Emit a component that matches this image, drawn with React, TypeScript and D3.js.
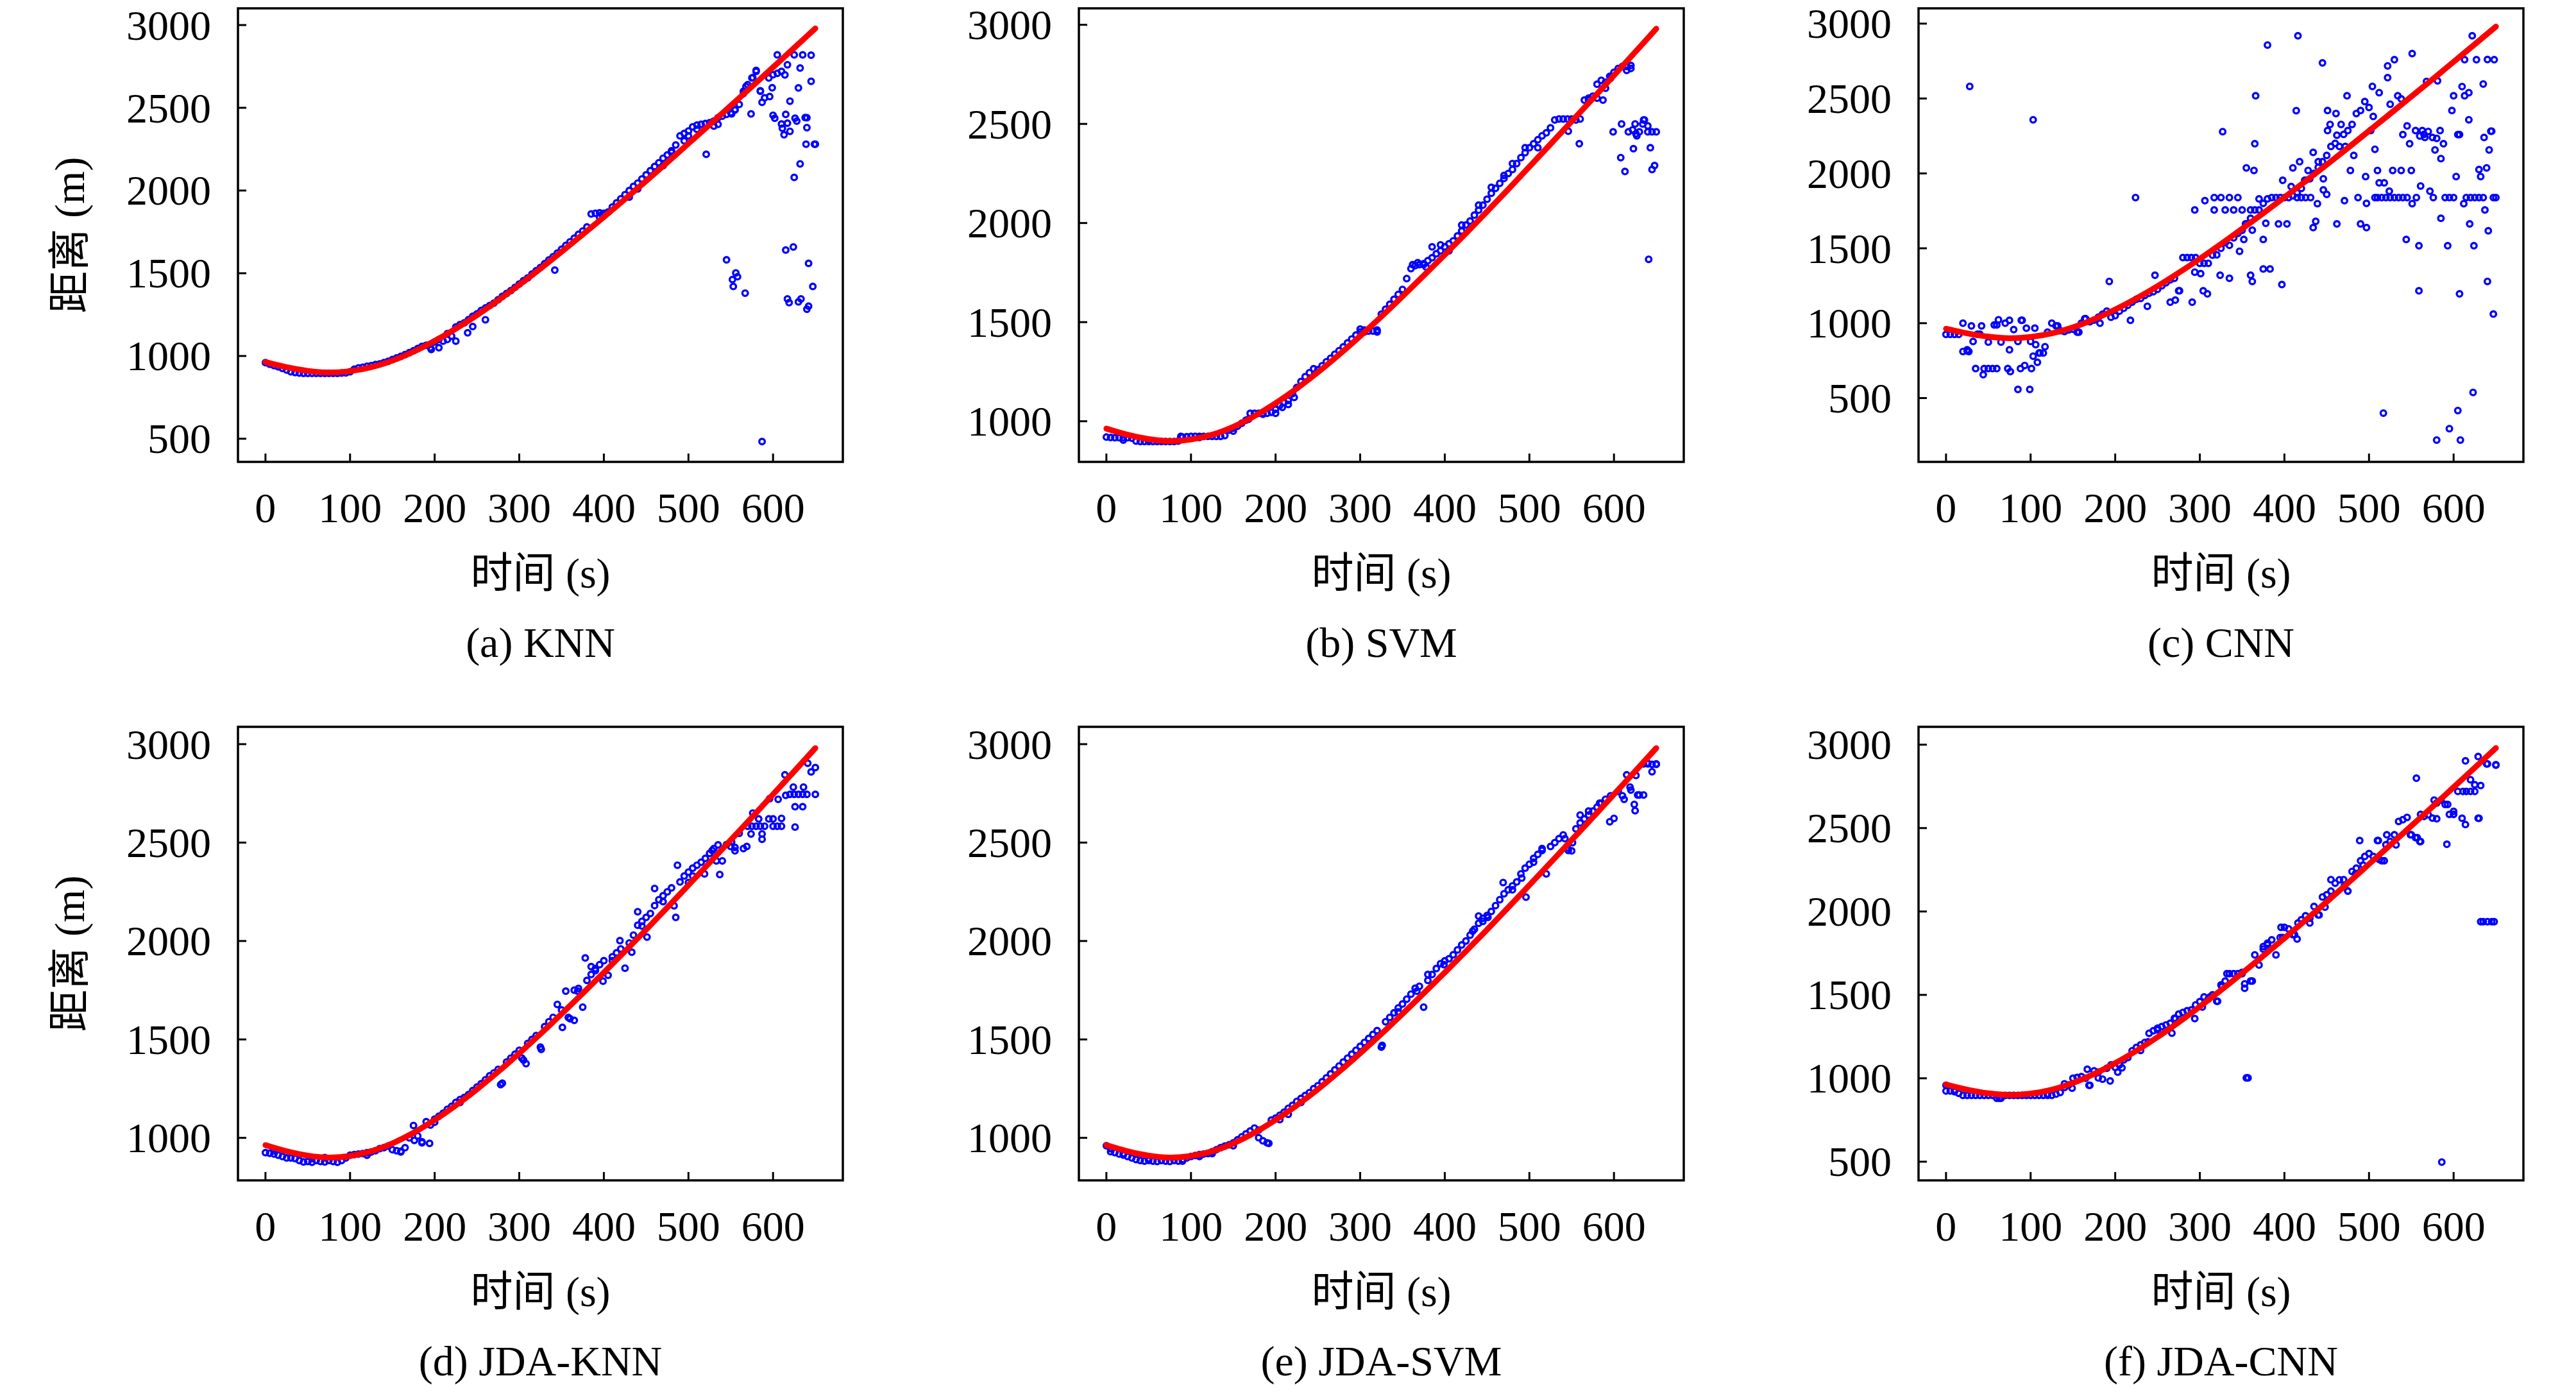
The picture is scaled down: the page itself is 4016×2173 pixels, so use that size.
import * as d3 from "d3";
import React from "react";

const W = 4016;
const H = 2173;
const BOX_W = 943;
const BOX_H = 707;
const COL_LEFT = [371, 1682, 2991];
const ROW_TOP = [13, 1133];
const FONT = "'Liberation Serif', 'Noto Sans CJK SC', serif";

// 采样时刻 (s)
const times = [
  0, 5, 10, 15, 20, 25, 30, 35, 40, 45,
  50, 55, 60, 65, 70, 75, 80, 85, 90, 95,
  100, 105, 110, 115, 120, 125, 130, 135, 140, 145,
  150, 155, 160, 165, 170, 175, 180, 185, 190, 195,
  200, 205, 210, 215, 220, 225, 230, 235, 240, 245,
  250, 255, 260, 265, 270, 275, 280, 285, 290, 295,
  300, 305, 310, 315, 320, 325, 330, 335, 340, 345,
  350, 355, 360, 365, 370, 375, 380, 385, 390, 395,
  400, 405, 410, 415, 420, 425, 430, 435, 440, 445,
  450, 455, 460, 465, 470, 475, 480, 485, 490, 495,
  500, 505, 510, 515, 520, 525, 530, 535, 540, 545,
  550, 555, 560, 565, 570, 575, 580, 585, 590, 595,
  600, 605, 610, 615, 620, 625, 630, 635, 640, 645,
  650,
];

// 真实距离 (红线)
const truthTimes = [0, 25, 50, 75, 100, 125, 150, 175, 200, 225, 250, 275, 300, 325, 350, 375, 400, 425, 450, 475, 500, 525, 550, 575, 600, 625, 650];
const truthDist = [963, 932, 910, 900, 908, 932, 972, 1026, 1091, 1165, 1247, 1336, 1430, 1528, 1630, 1734, 1840, 1948, 2058, 2170, 2284, 2398, 2513, 2628, 2745, 2862, 2980];

// (a) KNN
const knnMain = [
  960, 950, 942, 935, 925, 915, 905, 900, 897, 895,
  895, 895, 895, 895, 895, 895, 895, 895, 897, 898,
  905, 920, 928, 932, 938, 942, 948, 952, 960, 968,
  978, 988, 998, 1008, 1020, 1032, 1045, 1058, 1065, 1050,
  1085, 1100, 1090, 1135, 1120, 1175, 1190, 1200, 1220, 1240,
  1255, 1275, 1290, 1305, 1320, 1340, 1360, 1378, 1395, 1415,
  1435, 1455, 1472, 1495, 1515, 1535, 1558, 1580, 1600, 1622,
  1645, 1668, 1690, 1712, 1735, 1755, 1780, 1858, 1862, 1865,
  1862, 1870, 1900, 1925, 1950, 1975, 2000, 2025, 2045, 2070,
  2095, 2120, 2145, 2168, 2195, 2215, 2240, 2275, 2330, 2345,
  2360, 2385, 2395, 2400, 2405, 2410, 2420, 2440, 2450, 2460,
  2470, 2490, 2520, 2600, 2640, 2680, 2720, 2600, 2560, 2680,
  2700, 2820, 2720, 2460, 2540, 2820, 2620, 2820, 2440, 2660,
  2280,
];
const knnExtra = [
  [600, 2455], [602, 2437], [610, 2402], [611, 2376], [613, 2337], [620, 2358], [617, 2407], [626, 2437],
  [628, 2420], [638, 2441], [640, 2380], [639, 2280], [649, 2280], [632, 2740], [617, 2760], [632, 2161],
  [625, 2079], [645, 2818], [585, 2603], [587, 2533], [596, 2568], [599, 2621], [605, 2708], [614, 2699],
  [580, 2726], [576, 2682], [568, 2629], [565, 2586], [574, 2463], [555, 2486], [551, 2463], [521, 2219],
  [342, 1519], [239, 1140], [245, 1178], [260, 1219], [215, 1100], [196, 1039], [205, 1050], [225, 1090],
  [545, 1581], [552, 1462], [553, 1420], [556, 1502], [558, 1479], [567, 1380], [615, 1640], [624, 1659],
  [617, 1345], [619, 1322], [630, 1327], [633, 1345], [640, 1283], [642, 1301], [642, 1560], [647, 1420],
  [587, 483], [395, 1840], [398, 1855], [430, 1960], [440, 2010], [470, 2150], [480, 2230], [495, 2300],
  [500, 2330], [510, 2370], [530, 2390], [535, 2400],
];

// (b) SVM
const svmMain = [
  920, 918, 917, 917, 917, 917, 915, 900, 898, 898,
  898, 898, 898, 898, 898, 898, 898, 900, 920, 922,
  924, 924, 924, 924, 924, 924, 924, 924, 928, 955,
  965, 975, 990, 1005, 1040, 1040, 1040, 1040, 1040, 1045,
  1060, 1080, 1095, 1105, 1140, 1170, 1200, 1225, 1245, 1265,
  1260, 1280, 1300, 1318, 1338, 1356, 1375, 1395, 1415, 1435,
  1450, 1460, 1455, 1455, 1460, 1540, 1565, 1590, 1615, 1640,
  1665, 1720, 1770, 1785, 1790, 1795, 1810, 1825, 1845, 1860,
  1880, 1895, 1910, 1935, 1960, 1990, 2010, 2040, 2065, 2090,
  2120, 2150, 2175, 2200, 2225, 2250, 2270, 2300, 2330, 2355,
  2380, 2400, 2420, 2440, 2455, 2480, 2520, 2525, 2525, 2525,
  2525, 2520, 2525, 2620, 2630, 2640, 2700, 2720, 2710, 2740,
  2760, 2780, 2790, 2790, 2780, 2500, 2460, 2520, 2460, 2460,
  2460,
];
const svmExtra = [
  [20, 905], [50, 905], [88, 924], [110, 918], [150, 950], [168, 1010], [185, 1035], [200, 1040],
  [208, 1070], [215, 1085], [222, 1120], [300, 1465], [305, 1450], [320, 1450], [362, 1790], [368, 1800],
  [375, 1790], [378, 1778], [385, 1880], [395, 1890], [405, 1860], [420, 1990], [440, 2090], [455, 2180],
  [470, 2240], [480, 2300], [495, 2380], [510, 2380], [546, 2463], [559, 2400], [570, 2620], [580, 2630],
  [587, 2620], [590, 2680], [596, 2730], [615, 2770], [620, 2795], [599, 2460], [609, 2500], [608, 2330],
  [613, 2260], [617, 2460], [623, 2375], [626, 2450], [634, 2500], [636, 2520], [640, 2490], [643, 2380],
  [648, 2290], [645, 2270], [622, 2470], [627, 2440], [641, 1817],
];

// (c) CNN
const cnnMain = [
  925, 925, 925, 925, 1000, 815, 982, 697, 926, 697,
  874, 697, 988, 874, 1000, 1019, 957, 878, 1019, 967,
  878, 967, 801, 801, 940, 1000, 982, 950, 945, 955,
  960, 940, 1000, 1030, 1010, 1020, 1040, 1060, 1080, 1040,
  1050, 1080, 1100, 1120, 1140, 1160, 1165, 1185, 1200, 1210,
  1226, 1250, 1270, 1289, 1300, 1216, 1438, 1438, 1438, 1438,
  1400, 1400, 1400, 1454, 1456, 1500, 1538, 1520, 1570, 1600,
  1620, 1663, 1700, 1756, 1756, 1800, 1830, 1839, 1839, 1839,
  1839, 1839, 1850, 1870, 1900, 1954, 1964, 2000, 2040, 2078,
  2120, 2180, 2200, 2180, 2260, 2286, 2327, 2400, 2420, 2480,
  2440, 2380, 1839, 1839, 1839, 1839, 1839, 1839, 1839, 1839,
  2020, 2286, 2250, 2260, 2280, 2240, 2234, 2099, 1839, 1839,
  1839, 2259, 2580, 1839, 1839, 1839, 1839, 1839, 2760, 2282,
  1839,
];
const cnnExtra = [
  [20, 811], [27, 811], [25, 822], [44, 656], [32, 878], [37, 926], [42, 982], [57, 988], [62, 1023],
  [73, 697], [76, 677], [75, 822], [85, 558], [88, 697], [93, 718], [101, 697], [99, 558], [89, 1019],
  [106, 857], [103, 780], [108, 739], [111, 801], [117, 843], [103, 2358], [28, 2581], [50, 697], [60, 697],
  [132, 982], [157, 940], [164, 1030], [182, 1000], [193, 1279], [218, 1019], [224, 1839], [238, 1113],
  [247, 1320], [265, 1140], [271, 1154], [276, 1216], [291, 1140], [294, 1341], [301, 1331], [304, 1216],
  [309, 1196], [324, 1320], [335, 1300], [347, 1480], [352, 1559], [360, 1320], [362, 1279], [375, 1362],
  [383, 1362], [397, 1258], [362, 1621], [354, 1663], [375, 1559], [378, 1667], [365, 2198], [327, 2279],
  [366, 2518], [380, 2857], [416, 2919], [414, 2419], [445, 2738], [294, 1756], [306, 1818], [317, 1839],
  [325, 1839], [335, 1839], [345, 1839], [317, 1756], [330, 1756], [340, 1756], [350, 1756], [360, 1756],
  [355, 2037], [364, 2020], [370, 1830], [393, 1663], [403, 1663], [398, 1954], [408, 1912], [410, 2037],
  [418, 2078], [428, 2020], [434, 2140], [434, 1638], [437, 1680], [439, 1798], [424, 1954], [446, 1890],
  [440, 2078], [446, 1964], [450, 1860], [415, 1839], [420, 1839], [425, 1839], [431, 1839], [451, 2286],
  [462, 2255], [454, 2327], [467, 2327], [451, 2420], [461, 2400], [462, 1663], [471, 1818], [472, 2180],
  [482, 2120], [478, 2020], [474, 2518], [487, 1839], [497, 1800], [490, 1663], [497, 1638], [496, 1979],
  [502, 2286], [507, 2161], [504, 2581], [510, 2020], [512, 2539], [507, 1839], [512, 1937], [518, 1937],
  [517, 400], [522, 2718], [522, 2639], [525, 2462], [524, 1881], [530, 2759], [528, 2020], [538, 2020],
  [534, 2518], [538, 2498], [540, 2259], [544, 1559], [545, 2317], [548, 2198], [551, 2800], [551, 1798],
  [556, 1839], [559, 1216], [559, 1517], [561, 1916], [563, 2286], [584, 2286], [568, 2614], [566, 2240],
  [578, 2157], [581, 2618], [576, 1839], [572, 1881], [580, 220], [585, 1700], [588, 2198], [593, 1517],
  [595, 296], [598, 2420], [600, 2518], [603, 1979], [605, 417], [607, 2259], [608, 220], [607, 1196],
  [612, 1798], [613, 2759], [613, 2518], [618, 2539], [618, 2358], [619, 1663], [622, 2919], [623, 538],
  [624, 1517], [627, 2759], [630, 2026], [632, 1979], [635, 2597], [636, 2240], [637, 1756], [639, 2037],
  [640, 1279], [641, 1617], [642, 2157], [644, 2282], [647, 1061], [647, 1839], [648, 2759],
];

// (d) JDA-KNN
const jdaKnnMain = [
  925, 922, 918, 912, 905, 898, 898, 895, 885, 878,
  880, 876, 885, 880, 878, 885, 880, 876, 885, 898,
  912, 915, 918, 920, 925, 928, 935, 945, 950, 958,
  940, 935, 932, 950, 1000, 1063, 1010, 980, 1082, 1065,
  1095, 1110, 1125, 1145, 1160, 1180, 1195, 1205, 1220, 1240,
  1258, 1275, 1295, 1315, 1330, 1348, 1278, 1385, 1405, 1425,
  1445, 1395, 1480, 1500, 1520, 1461, 1565, 1590, 1612, 1678,
  1650, 1745, 1605, 1750, 1759, 1664, 1800, 1830, 1860, 1880,
  1900, 1826, 1920, 1940, 1960, 1862, 1990, 2030, 2080, 2100,
  2120, 2140, 2180, 2210, 2230, 2250, 2270, 2120, 2300, 2330,
  2350, 2370, 2385, 2400, 2420, 2445, 2470, 2488, 2407, 2490,
  2480, 2475, 2547, 2470, 2583, 2583, 2583, 2583, 2583, 2620,
  2620, 2583, 2623, 2740, 2745, 2745, 2745, 2745, 2745, 2859,
  2881,
];
const jdaKnnExtra = [
  [10, 935], [55, 895], [70, 900], [120, 912], [160, 928], [176, 987], [185, 975], [194, 972], [200, 1080],
  [230, 1180], [278, 1270], [303, 1406], [308, 1377], [326, 1450], [351, 1561], [358, 1612], [365, 1597],
  [369, 1745], [378, 1914], [385, 1870], [390, 1850], [399, 1796], [410, 1900], [419, 2002], [433, 1943],
  [440, 2149], [445, 2076], [451, 2020], [460, 2267], [470, 2200], [483, 2179], [487, 2385], [500, 2297],
  [505, 2330], [519, 2341], [528, 2460], [537, 2338], [533, 2407], [551, 2503], [555, 2458], [569, 2480],
  [574, 2544], [587, 2544], [587, 2517], [576, 2650], [583, 2620], [596, 2723], [606, 2720], [614, 2844],
  [600, 2583], [610, 2583], [626, 2579], [624, 2782], [636, 2782], [626, 2682], [635, 2682], [641, 2903],
  [650, 2745],
];

// (e) JDA-SVM
const jdaSvmMain = [
  960, 945, 925, 918, 913, 905, 898, 890, 885, 882,
  885, 882, 880, 885, 882, 880, 885, 882, 890, 898,
  905, 910, 915, 918, 920, 930, 940, 950, 958, 965,
  975, 990, 1005, 1020, 1035, 1050, 1001, 985, 975, 1090,
  1100, 1115, 1130, 1150, 1165, 1185, 1200, 1215, 1230, 1250,
  1265, 1285, 1305, 1325, 1345, 1365, 1385, 1405, 1425, 1445,
  1465, 1485, 1505, 1525, 1545, 1461, 1590, 1612, 1635, 1660,
  1680, 1705, 1730, 1760, 1770, 1664, 1800, 1830, 1860, 1885,
  1899, 1910, 1930, 1955, 1980, 2000, 2030, 2060, 2090, 2115,
  2130, 2150, 2180, 2210, 2240, 2260, 2280, 2300, 2341, 2370,
  2390, 2420, 2440, 2460, 2341, 2480, 2500, 2520, 2539, 2473,
  2458, 2570, 2600, 2620, 2640, 2660, 2680, 2700, 2720, 2606,
  2623, 2760, 2738, 2844, 2767, 2662, 2742, 2900, 2900, 2860,
  2900,
];
const jdaSvmExtra = [
  [5, 930], [20, 920], [50, 895], [90, 882], [110, 905], [125, 920], [150, 960], [180, 1040], [192, 972],
  [205, 1093], [215, 1120], [230, 1180], [326, 1470], [345, 1640], [367, 1745], [380, 1830], [399, 1880],
  [433, 2050], [440, 2127], [445, 2100], [451, 2120], [469, 2297], [480, 2260], [496, 2223], [491, 2320],
  [505, 2400], [515, 2470], [542, 2520], [546, 2460], [551, 2500], [560, 2640], [570, 2660], [583, 2700],
  [596, 2738], [612, 2720], [619, 2782], [624, 2694], [626, 2841], [628, 2742], [635, 2742], [640, 2903],
  [645, 2897], [650, 2897],
];

// (f) JDA-CNN
const jdaCnnMain = [
  958, 924, 920, 910, 898, 898, 898, 898, 898, 898,
  898, 898, 880, 880, 898, 898, 898, 898, 898, 898,
  898, 898, 898, 898, 898, 898, 905, 915, 945, 960,
  1000, 1005, 1010, 1000, 958, 1045, 1002, 995, 1060, 1080,
  1065, 1080, 1110, 1124, 1165, 1185, 1200, 1215, 1270, 1285,
  1300, 1310, 1320, 1330, 1360, 1385, 1395, 1405, 1410, 1440,
  1460, 1488, 1475, 1500, 1462, 1560, 1583, 1627, 1627, 1627,
  1635, 1002, 1583, 1740, 1679, 1790, 1810, 1830, 1740, 1844,
  1905, 1896, 1861, 1835, 1950, 1974, 1960, 2030, 1979, 2087,
  2100, 2122, 2170, 2190, 2191, 2122, 2240, 2260, 2304, 2330,
  2347, 2330, 2425, 2304, 2400, 2420, 2460, 2540, 2550, 2564,
  2460, 2443, 2420, 2570, 2580, 2560, 2650, 2668, 2642, 2582,
  2600, 2720, 2559, 2720, 2790, 2760, 2559, 1939, 2885, 1939,
  2880,
];
const jdaCnnExtra = [
  [0, 924], [10, 930], [63, 880], [120, 905], [140, 967], [149, 941], [167, 1054], [180, 1037], [194, 984],
  [203, 1037], [208, 1063], [230, 1167], [239, 1219], [250, 1290], [267, 1271], [271, 1358], [294, 1358],
  [303, 1427], [312, 1488], [321, 1462], [326, 1549], [332, 1627], [350, 1627], [353, 1566], [353, 1540],
  [356, 1002], [357, 1002], [362, 1583], [375, 1774], [380, 1800], [398, 1844], [396, 1905], [412, 1861],
  [416, 1931], [430, 1931], [441, 1979], [448, 2026], [455, 2191], [471, 2156], [475, 2122], [484, 2226],
  [489, 2425], [493, 2278], [512, 2312], [511, 2425], [518, 2304], [521, 2460], [532, 2399], [549, 2460],
  [557, 2443], [561, 2420], [556, 2799], [561, 2582], [580, 2556], [577, 2668], [593, 2642], [592, 2403],
  [600, 2582], [611, 2720], [614, 2521], [614, 2903], [632, 2755], [620, 2720], [625, 2720], [629, 2559],
  [629, 2929], [639, 2885], [650, 2877], [632, 1939], [640, 1939], [648, 1939], [586, 498], [169, 958],
];

const captions = ["(a) KNN", "(b) SVM", "(c) CNN", "(d) JDA-KNN", "(e) JDA-SVM", "(f) JDA-CNN"];
const mains = [knnMain, svmMain, cnnMain, jdaKnnMain, jdaSvmMain, jdaCnnMain];
const extras = [knnExtra, svmExtra, cnnExtra, jdaKnnExtra, jdaSvmExtra, jdaCnnExtra];
const yDomains = [[360, 3101], [795, 3083], [74, 3102], [784, 3088], [784, 3088], [388, 3107]];
const yTickSets = [
  [500, 1000, 1500, 2000, 2500, 3000],
  [1000, 1500, 2000, 2500, 3000],
  [500, 1000, 1500, 2000, 2500, 3000],
  [1000, 1500, 2000, 2500, 3000],
  [1000, 1500, 2000, 2500, 3000],
  [500, 1000, 1500, 2000, 2500, 3000],
];
const xDomain = [-32.5, 682.5];
const xTicks = [0, 100, 200, 300, 400, 500, 600];

const Panel = ({ idx }: { idx: number }) => {
  const left = COL_LEFT[idx % 3];
  const top = ROW_TOP[Math.floor(idx / 3)];
  const bottom = top + BOX_H;
  const x = d3.scaleLinear().domain(xDomain).range([left, left + BOX_W]);
  const y = d3.scaleLinear().domain(yDomains[idx]).range([bottom, top]);

  const points = times.map((t, i) => [t, mains[idx][i]]).concat(extras[idx]);
  const truthLine = d3.line<number>()
    .x((_, i) => x(truthTimes[i]))
    .y((d) => y(d))
    .curve(d3.curveCatmullRom)(truthDist);

  const cx = left + BOX_W / 2;
  return (
    <g>
      {points.map((p, i) => (
        <circle key={i} cx={x(p[0])} cy={y(p[1])} r={4.3} fill="none" stroke="#0000ff" strokeWidth={3.4} />
      ))}
      <path d={truthLine || ""} fill="none" stroke="#ff0000" strokeWidth={9} strokeLinecap="round" />

      {/* 刻度 */}
      {xTicks.map((t) => (
        <g key={"x" + t}>
          <line x1={x(t)} x2={x(t)} y1={bottom} y2={bottom - 13} stroke="#000" strokeWidth={3} />
          <text x={x(t)} y={bottom + 94} textAnchor="middle" fontSize={66} fontFamily={FONT}>{t}</text>
        </g>
      ))}
      {yTickSets[idx].map((v) => (
        <g key={"y" + v}>
          <line x1={left} x2={left + 13} y1={y(v)} y2={y(v)} stroke="#000" strokeWidth={3} />
          <text x={left - 42} y={y(v)} textAnchor="end" dominantBaseline="central" fontSize={66} fontFamily={FONT}>{v}</text>
        </g>
      ))}
      <rect x={left} y={top} width={BOX_W} height={BOX_H} fill="none" stroke="#000" strokeWidth={3.5} />

      <text x={cx} y={bottom + 196} textAnchor="middle" fontSize={66} fontFamily={FONT}>时间 (s)</text>
      <text x={cx} y={bottom + 304} textAnchor="middle" fontSize={66} fontFamily={FONT}>{captions[idx]}</text>
      {idx % 3 === 0 && (
        <text
          transform={`translate(108,${top + BOX_H / 2}) rotate(-90)`}
          textAnchor="middle"
          dominantBaseline="central"
          fontSize={66}
          fontFamily={FONT}
        >距离 (m)</text>
      )}
    </g>
  );
};

export default function App() {
  return (
    <svg
      width={W}
      height={H}
      viewBox={`0 0 ${W} ${H}`}
      style={{ position: "absolute", left: 0, top: 0, background: "#fff" }}
    >
      <rect width={W} height={H} fill="#fff" />
      {captions.map((_, i) => <Panel key={i} idx={i} />)}
    </svg>
  );
}
